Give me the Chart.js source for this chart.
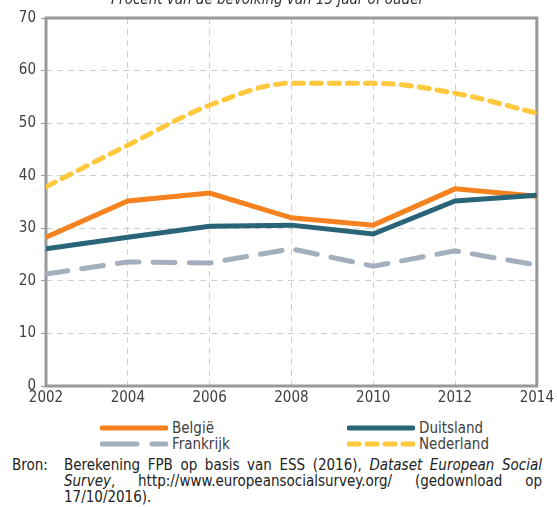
<!DOCTYPE html>
<html><head><meta charset="utf-8">
<script src="https://cdn.jsdelivr.net/npm/chart.js@4/dist/chart.umd.min.js"></script>
<style>
html,body{margin:0;padding:0;background:#fff;width:557px;height:507px;overflow:hidden;font-family:"DejaVu Sans Condensed","DejaVu Sans",sans-serif;color:#333;}
#wrap{position:absolute;left:0;top:0;width:557px;height:415px;}
#title{position:absolute;top:-10px;left:0;width:535px;text-align:center;font-style:italic;font-size:15px;color:#333;}
.leg{position:absolute;font-size:15px;color:#404040;line-height:16px;}
.leg svg{position:absolute;left:0;top:3px;}
#src{position:absolute;left:12px;top:457px;width:530px;font-size:15px;line-height:16px;color:#222;}
#src .lab{position:absolute;left:0;top:0;}
#src .txt{position:absolute;left:52px;width:478px;text-align:justify;}
</style></head><body>
<div id="wrap"><canvas id="c" width="557" height="415"></canvas></div>
<div id="title">Procent van de bevolking van 15 jaar of ouder</div>
<div id="legend"></div>
<div id="src"><span class="lab">Bron:</span><div class="txt">Berekening FPB op basis van ESS (2016), <i>Dataset European Social Survey</i>, http://www.europeansocialsurvey.org/ (gedownload op 17/10/2016).</div></div>
<script>
const years = [2002, 2004, 2006, 2008, 2010, 2012, 2014];
const belgie = [28.3, 35.2, 36.7, 32.0, 30.6, 37.5, 36.1];
const duitsland = [26.1, 28.3, 30.4, 30.6, 28.9, 35.2, 36.3];
const frankrijk = [21.3, 23.6, 23.4, 26.1, 22.8, 25.7, 23.0];
const nederland = [37.9, 45.8, 53.4, 57.6, 57.6, 55.7, 51.9];
const yTicks = [0, 10, 20, 30, 40, 50, 60, 70];
const names = ['België', 'Duitsland', 'Frankrijk', 'Nederland'];

const pts = arr => arr.map((v, i) => ({x: years[i], y: v}));
const styles = [
  {color: '#F5821F', dash: [], tension: 0},
  {color: '#2A6479', dash: [], tension: 0},
  {color: '#A4AFBD', dash: [22, 14], tension: 0},
  {color: '#FFC83D', dash: [10, 8], tension: 0.4}
];
const series = [belgie, duitsland, frankrijk, nederland];
const FONT = '"DejaVu Sans Condensed","DejaVu Sans"';

const frame = {
  id: 'frame',
  beforeDatasetsDraw(chart) {
    const a = chart.chartArea, ctx = chart.ctx;
    ctx.save();
    ctx.strokeStyle = '#999999';
    ctx.lineWidth = 3;
    ctx.strokeRect(a.left, a.top, a.right - a.left, a.bottom - a.top);
    ctx.restore();
  }
};

new Chart(document.getElementById('c'), {
  type: 'line',
  data: {
    datasets: series.map((s, i) => ({
      label: names[i],
      data: pts(s),
      borderColor: styles[i].color,
      backgroundColor: styles[i].color,
      borderWidth: 5,
      borderDash: styles[i].dash,
      borderCapStyle: i >= 2 ? 'round' : 'butt',
      tension: styles[i].tension,
      cubicInterpolationMode: i === 3 ? 'monotone' : 'default',
      pointRadius: 0,
      fill: false
    })).reverse()
  },
  options: {
    responsive: false,
    animation: false,
    events: [],
    layout: {padding: {top: 18, right: 19, left: 0, bottom: 0}},
    plugins: {legend: {display: false}, tooltip: {enabled: false}, title: {display: false}},
    scales: {
      x: {
        type: 'linear', min: 2002, max: 2014,
        afterBuildTicks: s => { s.ticks = years.map(v => ({value: v})); },
        afterFit: s => { s.height = 29; },
        grid: {color: '#cfcfcf', lineWidth: 1, drawTicks: false},
        border: {display: false, dash: [6, 5]},
        ticks: {color: '#404040', font: {family: FONT, size: 15}, padding: 3, maxRotation: 0, callback: v => String(v)}
      },
      y: {
        min: 0, max: 70,
        afterBuildTicks: s => { s.ticks = yTicks.map(v => ({value: v})); },
        afterFit: s => { s.width = 46; },
        grid: {color: '#cfcfcf', lineWidth: 1, drawTicks: true, tickLength: 5, tickColor: '#999'},
        border: {display: false, dash: [6, 5]},
        ticks: {color: '#404040', font: {family: FONT, size: 15}, padding: 5}
      }
    }
  },
  plugins: [frame]
});

// legend
const legendPos = [[100, 420], [347, 420], [100, 436], [347, 436]];
const leg = document.getElementById('legend');
names.forEach((n, i) => {
  const d = document.createElement('div');
  d.className = 'leg';
  d.style.left = legendPos[i][0] + 'px';
  d.style.top = legendPos[i][1] + 'px';
  const st = styles[i];
  let dash = '';
  if (i === 2) dash = 'stroke-dasharray="35 15"';
  if (i === 3) dash = 'stroke-dasharray="10 8"';
  d.innerHTML = `<svg width="68" height="10"><line x1="2" y1="5" x2="66" y2="5" stroke="${st.color}" stroke-width="5" stroke-linecap="round" ${dash}/></svg><span style="position:absolute;left:72px;top:0;white-space:nowrap">${n}</span>`;
  leg.appendChild(d);
});
</script>
</body></html>
